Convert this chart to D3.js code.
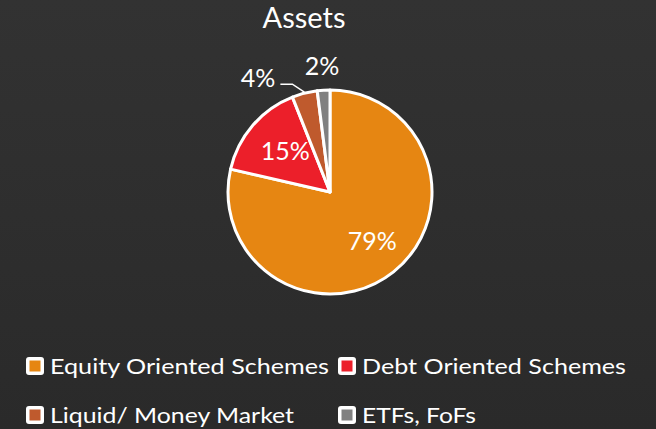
<!DOCTYPE html>
<html>
<head>
<meta charset="utf-8">
<script src="https://cdn.jsdelivr.net/npm/d3@7"></script>
<style>
  html, body { margin: 0; padding: 0; background: #2e2e2e; }
  svg { display: block; }
  text { font-family: "Lato", "Open Sans", sans-serif; fill: #ffffff; font-weight: 400; }
</style>
</head>
<body>
<svg id="chart" width="656" height="429"></svg>
<script>
const title = "Assets";
const categories = ["Equity Oriented Schemes", "Debt Oriented Schemes", "Liquid/ Money Market", "ETFs, FoFs"];
const values = [78.6, 15.4, 4.0, 2.0];
const valueLabels = ["79%", "15%", "4%", "2%"];
const colors = ["#e68612", "#ec1f2a", "#bf5a2d", "#808080"];

const W = 656, H = 429;
const svg = d3.select("#chart");

// background
const defs = svg.append("defs");
const grad = defs.append("linearGradient").attr("id", "bg").attr("x1", 0).attr("y1", 0).attr("x2", 0).attr("y2", 1);
grad.append("stop").attr("offset", "0%").attr("stop-color", "#323232");
grad.append("stop").attr("offset", "100%").attr("stop-color", "#2a2a2a");
svg.append("rect").attr("width", W).attr("height", H).attr("fill", "url(#bg)");

// title
svg.append("text")
  .attr("x", 304).attr("y", 28)
  .attr("text-anchor", "middle")
  .style("font-size", "29px")
  .text(title);

// pie
const cx = 330, cy = 192, R = 102;
const data = categories.map((c, i) => ({ cat: c, value: values[i], label: valueLabels[i], color: colors[i] }));
const pie = d3.pie().value(d => d.value).sort(null);
const arcs = pie(data);
const arc = d3.arc().innerRadius(0).outerRadius(R);
const g = svg.append("g").attr("transform", `translate(${cx},${cy})`);

g.selectAll("path.slice").data(arcs).enter().append("path")
  .attr("class", "slice")
  .attr("d", arc)
  .attr("fill", d => d.data.color)
  .attr("stroke", "#ffffff")
  .attr("stroke-width", 3)
  .attr("stroke-linejoin", "round");

// inside labels
const inArc = d3.arc().innerRadius(63).outerRadius(63);
g.selectAll("text.inlab").data(arcs.slice(0, 2)).enter().append("text")
  .attr("class", "inlab")
  .attr("transform", d => { const c = inArc.centroid(d); return `translate(${c[0] + 3},${c[1]})`; })
  .attr("text-anchor", "middle")
  .attr("dy", "0.36em")
  .style("font-size", "25px")
  .text(d => d.data.label);

// outside labels
const edge = d3.arc().innerRadius(R + 1).outerRadius(R + 1);
const outR = d3.arc().innerRadius(R + 24).outerRadius(R + 24);

// 4% with leader
const liq = arcs[2];
const p0 = edge.centroid(liq);
const p1 = [p0[0] - 12, p0[1] - 8];
const p2 = [p1[0] - 12, p1[1]];
g.append("path")
  .attr("d", d3.line()([p0, p1, p2]))
  .attr("fill", "none")
  .attr("stroke", "#ffffff")
  .attr("stroke-width", 1.5);
g.append("text")
  .attr("x", p2[0] - 5).attr("y", p2[1] - 6)
  .attr("text-anchor", "end")
  .attr("dy", "0.36em")
  .style("font-size", "25px")
  .text(liq.data.label);

// 2%
const etf = arcs[3];
const q = outR.centroid(etf);
g.append("text")
  .attr("x", q[0]).attr("y", q[1])
  .attr("text-anchor", "middle")
  .attr("dy", "0.36em")
  .style("font-size", "25px")
  .text(etf.data.label);

// legend
const legX = [26, 338], legY = [357, 406];
const legWidths = [279, 264, 244, 114];
const leg = svg.append("g");
data.forEach((d, i) => {
  const x = legX[i % 2], y = legY[Math.floor(i / 2)];
  const it = leg.append("g").attr("transform", `translate(${x},${y})`);
  it.append("rect").attr("width", 18).attr("height", 18).attr("rx", 3).attr("fill", "#ffffff");
  it.append("rect").attr("x", 3.5).attr("y", 3.5).attr("width", 11).attr("height", 11).attr("fill", d.color);
  it.append("text").attr("x", 24).attr("y", 16.5)
    .style("font-size", "22px")
    .attr("textLength", legWidths[i])
    .attr("lengthAdjust", "spacingAndGlyphs")
    .text(d.cat);
});
</script>
</body>
</html>
